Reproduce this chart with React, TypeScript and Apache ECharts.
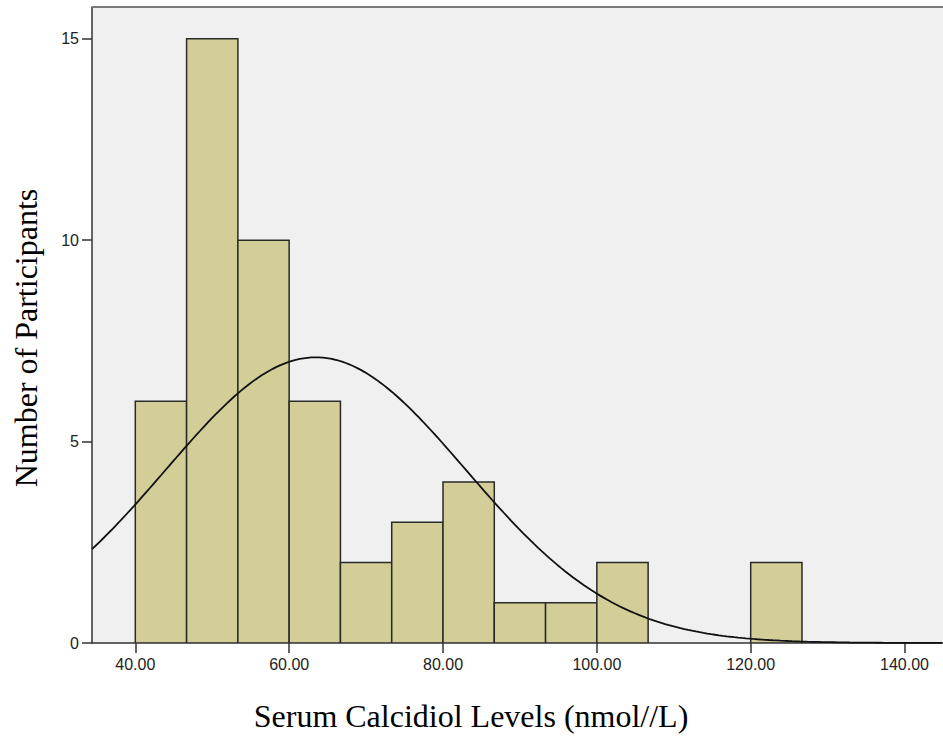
import React, { useEffect, useRef } from "react";
import * as echarts from "echarts";

// Histogram bins: lower edge of the first bin, bin width, and counts per bin
const binStart = 40;
const binWidth = 20 / 3;
const binCounts = [6, 15, 10, 6, 2, 3, 4, 1, 1, 2, 0, 0, 2];

// Fitted normal curve parameters
const sampleMean = 63.46;
const sampleSd = 19.5;
const sampleSize = 52;

// Axis ticks
const xTicks = [40, 60, 80, 100, 120, 140];
const yTicks = [0, 5, 10, 15];

const xMin = 34.37;
const xMax = 145.0;
const yMax = 15.79;

const xTitle = "Serum Calcidiol Levels (nmol//L)";
const yTitle = "Number of Participants";

export default function App() {
  const ref = useRef<HTMLDivElement>(null);

  useEffect(() => {
    if (!ref.current) return;
    const chart = echarts.init(ref.current, undefined, { renderer: "svg" });

    const barData = binCounts
      .map((c, i) => [binStart + i * binWidth, binStart + (i + 1) * binWidth, c])
      .filter((d) => d[2] > 0);

    // normal density scaled to counts per bin
    const curve: number[][] = [];
    const scale = (sampleSize * binWidth) / (sampleSd * Math.sqrt(2 * Math.PI));
    for (let x = xMin; x <= xMax + 0.001; x += 0.5) {
      const z = (x - sampleMean) / sampleSd;
      curve.push([x, scale * Math.exp(-0.5 * z * z)]);
    }

    const serif = "'Liberation Serif', 'Times New Roman', serif";
    const sans = "'Liberation Sans', Arial, sans-serif";

    chart.setOption({
      animation: false,
      backgroundColor: "#ffffff",
      grid: {
        left: 92,
        right: 0,
        top: 7,
        bottom: 95,
        show: true,
        backgroundColor: "#f0f0f0",
        borderWidth: 0,
      },
      xAxis: {
        type: "value",
        min: xMin,
        max: xMax,
        axisLine: { show: true, lineStyle: { color: "#333", width: 1.5 } },
        axisTick: {
          show: true,
          length: 10,
          customValues: xTicks,
          lineStyle: { color: "#333", width: 1.5 },
        },
        axisLabel: {
          customValues: xTicks,
          formatter: (v: number) => v.toFixed(2),
          fontSize: 16,
          fontFamily: sans,
          color: "#222",
          margin: 13,
        },
        splitLine: { show: false },
      },
      yAxis: {
        type: "value",
        min: 0,
        max: yMax,
        axisLine: { show: true, onZero: false, lineStyle: { color: "#333", width: 1.5 } },
        axisTick: {
          show: true,
          length: 10,
          customValues: yTicks,
          lineStyle: { color: "#333", width: 1.5 },
        },
        axisLabel: {
          customValues: yTicks,
          fontSize: 16,
          fontFamily: sans,
          color: "#222",
          margin: 13,
        },
        splitLine: { show: false },
      },
      series: [
        {
          type: "custom",
          data: barData,
          clip: true,
          renderItem: (_params: any, api: any) => {
            const p0 = api.coord([api.value(0), api.value(2)]);
            const p1 = api.coord([api.value(1), 0]);
            return {
              type: "rect",
              shape: { x: p0[0], y: p0[1], width: p1[0] - p0[0], height: p1[1] - p0[1] },
              style: { fill: "#d3ce98", stroke: "#2a2a2a", lineWidth: 1.5 },
            };
          },
          z: 2,
        },
        {
          type: "line",
          data: curve,
          showSymbol: false,
          symbol: "none",
          clip: true,
          lineStyle: { color: "#111", width: 1.8 },
          z: 3,
        },
      ],
      graphic: [
        {
          type: "line",
          shape: { x1: 92, y1: 7, x2: 943, y2: 7 },
          style: { stroke: "#7a7a7a", lineWidth: 2 },
          z: 10,
        },
        {
          type: "text",
          x: 471,
          y: 716,
          style: {
            text: xTitle,
            fontSize: 32,
            fontFamily: serif,
            fill: "#000",
            align: "center",
            verticalAlign: "middle",
          },
        },
        {
          type: "text",
          x: 26,
          y: 338,
          rotation: Math.PI / 2,
          style: {
            text: yTitle,
            fontSize: 32,
            fontFamily: serif,
            fill: "#000",
            align: "center",
            verticalAlign: "middle",
          },
        },
      ],
    });

    return () => chart.dispose();
  }, []);

  return (
    <div
      ref={ref}
      style={{ position: "fixed", left: 0, top: 0, width: 943, height: 738 }}
    />
  );
}
